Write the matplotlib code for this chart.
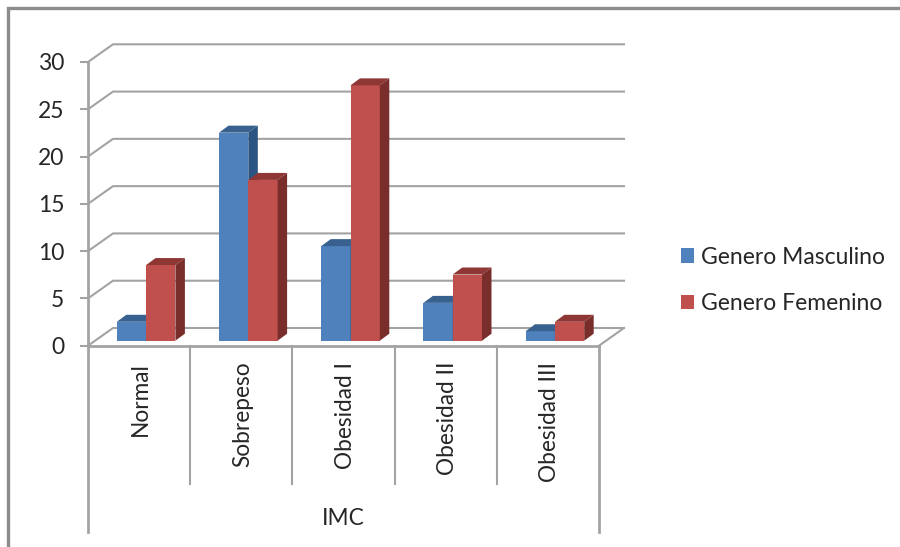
import matplotlib
matplotlib.use("Agg")
import matplotlib.pyplot as plt
from matplotlib.patches import Polygon, Rectangle

categorias = ["Normal", "Sobrepeso", "Obesidad I", "Obesidad II", "Obesidad III"]
masculino = [2, 22, 10, 4, 1]
femenino = [8, 17, 27, 7, 2]
marcas_y = [0, 5, 10, 15, 20, 25, 30]

AZUL = ["#4f81bd", "#38618f", "#2c5482"]
ROJO = ["#c0504d", "#8f3735", "#7a2e2c"]
GRIS = "#a3a3a3"
TEXTO = "#262626"
ANCHO, ALTO = 900, 547

plt.rcParams["font.family"] = ["Lato", "DejaVu Sans"]

fig = plt.figure(figsize=(9, 5.47), dpi=100)
# eje principal: categorias 0-5 en x, valores 0-30 en y
ax = fig.add_axes([88 / ANCHO, 1 - 345.7 / ALTO, (599 - 88) / ANCHO, (345.7 - 62) / ALTO])
ax.set_xlim(0, 5)
ax.set_ylim(0, 30)
ax.patch.set_visible(False)

# desplazamiento de perspectiva (pared del fondo)
fondo_x = 25 / 102.2
fondo_y = 17.7 / 9.457
# plano de las barras
base_x = 7 / 102.2
base_y = 5 / 9.457
prof_x = 9.5 / 102.2
prof_y = 7 / 9.457
ancho = 0.2867

# paredes y rejilla
for v in marcas_y:
    ax.plot([0, fondo_x, 5 + fondo_x], [v, v + fondo_y, v + fondo_y],
            color=GRIS, lw=1.5, clip_on=False, zorder=1)
ax.plot([5, 5 + fondo_x], [0, fondo_y], color=GRIS, lw=1.5, clip_on=False, zorder=1)


def barra(izq, valor, colores, etiqueta):
    ax.bar(izq, valor, ancho, bottom=base_y, align="edge", color=colores[0],
           clip_on=False, zorder=3, label=etiqueta)
    der = izq + ancho
    sup = base_y + valor
    ax.add_patch(Polygon([(izq, sup), (izq + prof_x, sup + prof_y),
                          (der + prof_x, sup + prof_y), (der, sup)],
                         closed=True, fc=colores[1], ec="none", clip_on=False, zorder=3))
    ax.add_patch(Polygon([(der, base_y), (der + prof_x, base_y + prof_y),
                          (der + prof_x, sup + prof_y), (der, sup)],
                         closed=True, fc=colores[2], ec="none", clip_on=False, zorder=3))


for i in range(len(categorias)):
    izq = i + 0.5 - ancho + base_x
    barra(izq, masculino[i], AZUL, "Genero Masculino" if i == 0 else None)
    barra(izq + ancho, femenino[i], ROJO, "Genero Femenino" if i == 0 else None)

# ejes
for s in ["top", "right", "bottom", "left"]:
    ax.spines[s].set_visible(False)
ax.set_xticks([])
ax.set_yticks(marcas_y)
ax.tick_params(axis="y", length=6, width=1.5, color=GRIS, labelsize=16.5,
               labelcolor=TEXTO, pad=11)

trans = ax.get_xaxis_transform()
ax.plot([0, 5], [0, 0], transform=trans, color=GRIS, lw=2, clip_on=False, zorder=4)
ax.plot([0, 0], [1, -186 / 283.7], transform=trans, color=GRIS, lw=2, clip_on=False, zorder=4)
ax.plot([5, 5], [0, -186 / 283.7], transform=trans, color=GRIS, lw=2, clip_on=False, zorder=4)
for i in range(1, 5):
    ax.plot([i, i], [0, -138.5 / 283.7], transform=trans, color=GRIS, lw=1.5, clip_on=False, zorder=4)

for i, nombre in enumerate(categorias):
    ax.text(i + 0.515, -16 / 283.7, nombre, transform=trans, rotation=90, ha="center", va="top",
            fontsize=16.3, color=TEXTO)
ax.text(2.5, -172.5 / 283.7, "IMC", transform=trans, ha="center", va="center",
        fontsize=16.3, color=TEXTO)

h, l = ax.get_legend_handles_labels()
fig.legend(h, l, loc="center left", bbox_to_anchor=(660.5 / ANCHO, 1 - 280.5 / ALTO), frameon=False,
           fontsize=16.5, labelcolor=TEXTO, handlelength=0.58, handleheight=0.6,
           handletextpad=0.3, labelspacing=1.11)

# marco exterior
fig.add_artist(Rectangle((8 / ANCHO, -0.01), 2, 1 - 8 / ALTO + 0.01, transform=fig.transFigure,
                         fc="none", ec="#8c8c8c", lw=2.4))

fig.savefig("out.png", dpi=100)
